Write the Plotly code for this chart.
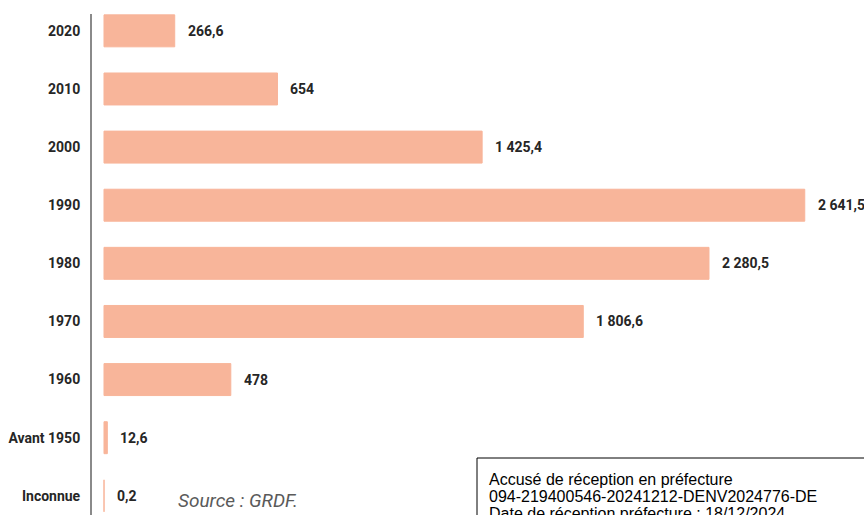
import plotly.graph_objects as go

# Categories, top to bottom
periodes = ["2020", "2010", "2000", "1990", "1980", "1970", "1960", "Avant 1950", "Inconnue"]
longueurs = [266.6, 654, 1425.4, 2641.5, 2280.5, 1806.6, 478, 12.6, 0.2]
etiquettes = ["266,6", "654", "1 425,4", "2 641,5", "2 280,5", "1 806,6", "478", "12,6", "0,2"]

bar_color = "#F8B59A"
cond_font = "Roboto, Liberation Sans Narrow, sans-serif"
label_font = dict(family=cond_font, size=14, color="#262626")

W, H = 864, 515
pl, pt = 92, 14
pw, ph = W - pl, H - pt


def px_x(x):
    # x in screenshot pixels -> paper fraction
    return (x - pl) / pw


def px_y(y):
    return 1 - (y - pt) / ph


fig = go.Figure()

fig.add_trace(go.Bar(
    x=longueurs,
    y=list(range(len(periodes))),
    orientation="h",
    marker_color=bar_color,
    marker_line=dict(color=bar_color, width=1),
    width=0.55,
    showlegend=False,
    hoverinfo="skip",
))

# value labels to the right of each bar
for i, (v, t) in enumerate(zip(longueurs, etiquettes)):
    fig.add_annotation(
        x=v, y=i, text="<b>%s</b>" % t,
        xref="x", yref="y",
        xanchor="left", yanchor="middle",
        xshift=11, showarrow=False,
        font=label_font,
    )

# source note
fig.add_annotation(
    x=px_x(176), y=px_y(500), xref="paper", yref="paper",
    text="<i>Source : GRDF.</i>", showarrow=False,
    xanchor="left", yanchor="middle",
    font=dict(family="Roboto, sans-serif", size=19, color="#5a5a5a"),
)

# prefecture stamp (clipped at bottom-right)
fig.add_shape(
    type="rect", xref="paper", yref="paper",
    x0=px_x(477), x1=px_x(870), y0=px_y(540), y1=px_y(458),
    line=dict(color="#000000", width=1),
    fillcolor="white",
)
for i, line in enumerate(["Accusé de réception en préfecture",
                          "094-219400546-20241212-DENV2024776-DE",
                          "Date de réception préfecture : 18/12/2024"]):
    fig.add_annotation(
        x=px_x(487), y=px_y(479 + 17 * i), xref="paper", yref="paper",
        text=line, showarrow=False, xanchor="left", yanchor="middle",
        font=dict(family="Liberation Sans, Arial, sans-serif", size=16, color="#000000"),
    )

fig.update_layout(
    width=W,
    height=H,
    margin=dict(l=pl, r=0, t=pt, b=0, autoexpand=False),
    plot_bgcolor="white",
    paper_bgcolor="white",
    xaxis=dict(
        range=[-45.2, 2864.8],
        showgrid=False, zeroline=False, showticklabels=False, showline=False,
        automargin=False,
    ),
    yaxis=dict(
        tickmode="array",
        tickvals=list(range(len(periodes))),
        ticktext=["<b>%s</b>" % p for p in periodes],
        range=[8.33, -0.29],
        showgrid=False, zeroline=False,
        showline=True, linecolor="#8a8a8a", linewidth=2,
        ticks="", ticklabelstandoff=7,
        automargin=False,
        tickfont=dict(family=cond_font, size=14, color="#262626"),
    ),
)

# drop the default body margin so the figure fills the window exactly
fig.write_html("out.html",
               config={"displayModeBar": False},
               post_script="document.body.style.margin='0';document.body.style.overflow='hidden';")
